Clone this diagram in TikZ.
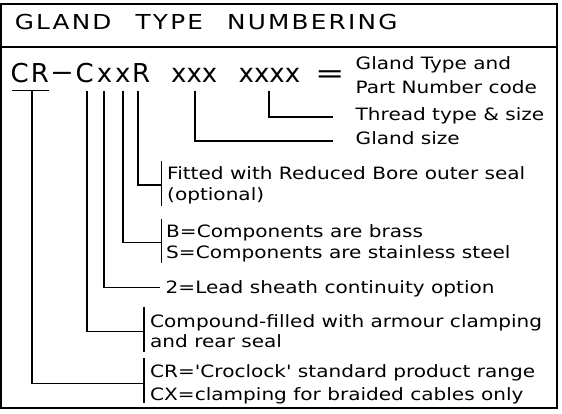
\documentclass[tikz,border=0pt]{standalone}
\usepackage{fontspec}
\usepackage{graphicx}
\newfontfamily\smallfont[FakeStretch=1.18]{DejaVu Sans}
\newfontfamily\hdfont[FakeStretch=1.2,LetterSpace=10.7,WordSpace=2.4]{DejaVu Sans}
\newfontfamily\bigfont{DejaVu Sans}
\begin{document}
\begin{tikzpicture}[x=1pt,y=-1pt,
  frame/.style={line width=1.8pt},
  conn/.style={line width=1.5pt},
  lbl/.style={anchor=base west,inner sep=0pt,font=\smallfont\fontsize{17}{20}\selectfont},
  hd/.style={anchor=base west,inner sep=0pt,font=\hdfont\fontsize{20.6}{24}\selectfont},
  big/.style={anchor=base west,inner sep=0pt,font=\bigfont\fontsize{26}{30}\selectfont}]
\useasboundingbox[fill=white] (0,0) rectangle (562,414);
% frame
\coordinate (fTL) at (1,4);
\coordinate (fBR) at (557,408);
\coordinate (sepL) at (1,46.7);
\coordinate (sepR) at (557,46.7);
\draw[frame] (fTL) rectangle (fBR);
\draw[frame] (sepL) -- (sepR);
% title
\node[hd] (title) at (14.6,30) {GLAND TYPE NUMBERING};
% code line
\node[big] (code) at (10.5,83) {C\kern2pt R\kern1pt\raisebox{2.8pt}{\scalebox{2.6}[1]{-}}\kern1.4pt C\kern3pt x\kern3pt x\kern1.5pt R};
\node[big] (gsz) at (171,83) {xxx};
\node[big] (thr) at (238.5,83) {xxxx};
\node[big] (eq) at (315,83) {\scalebox{1.35}[1]{=}};
% start points
\coordinate (ulL) at (12,90.7);
\coordinate (ulR) at (49,90.7);
\coordinate (pCR) at (32,90.7);
\coordinate (pC) at (87,91);
\coordinate (pXa) at (104,91);
\coordinate (pXb) at (123,91);
\coordinate (pR) at (138,91);
\coordinate (pG) at (195,91);
\coordinate (pT) at (269,91);
% junctions
\coordinate (jT) at (333,117);
\coordinate (jG) at (333,141);
\coordinate (jR) at (161.7,185);
\coordinate (jXb) at (161.7,242.3);
\coordinate (jXa) at (160,287.3);
\coordinate (jC) at (144,331.7);
\coordinate (jCR) at (144,383.3);
% bracket ends
\coordinate (bRt) at (161.7,160.7);
\coordinate (bRb) at (161.7,205.7);
\coordinate (bXt) at (161.7,219);
\coordinate (bXb) at (161.7,263);
\coordinate (bCt) at (144,306.7);
\coordinate (bCb) at (144,351.7);
\coordinate (bCRt) at (144,358);
\coordinate (bCRb) at (144,403);
% connectors
\draw[conn] (ulL) -- (ulR);
\draw[conn] (pT) |- (jT);
\draw[conn] (pG) |- (jG);
\draw[conn] (pR) |- (jR);
\draw[conn] (pXb) |- (jXb);
\draw[conn] (pXa) |- (jXa);
\draw[conn] (pC) |- (jC);
\draw[conn] (pCR) |- (jCR);
\draw[conn] (bRt) -- (bRb);
\draw[conn] (bXt) -- (bXb);
\draw[conn] (bCt) -- (bCb);
\draw[conn] (bCRt) -- (bCRb);
% labels
\node[lbl] (gt1) at (355.5,69.3) {Gland Type and};
\node[lbl] (gt2) at (355.5,93.3) {Part Number code};
\node[lbl] (thd) at (355.5,120.7) {Thread type \& size};
\node[lbl] (gs) at (355.5,145) {Gland size};
\node[lbl] (rb1) at (167,179.3) {Fitted with Reduced Bore outer seal};
\node[lbl] (rb2) at (167,200.8) {(optional)};
\node[lbl] (mat1) at (166,237) {B=Components are brass};
\node[lbl] (mat2) at (166,258.5) {S=Components are stainless steel};
\node[lbl] (lead) at (165.5,293.5) {2=Lead sheath continuity option};
\node[lbl] (cf1) at (150,327) {Compound-filled with armour clamping};
\node[lbl] (cf2) at (150,347.5) {and rear seal};
\node[lbl] (cr1) at (150,377) {CR='Croclock' standard product range};
\node[lbl] (cr2) at (150,400) {CX=clamping for braided cables only};
\end{tikzpicture}
\end{document}
